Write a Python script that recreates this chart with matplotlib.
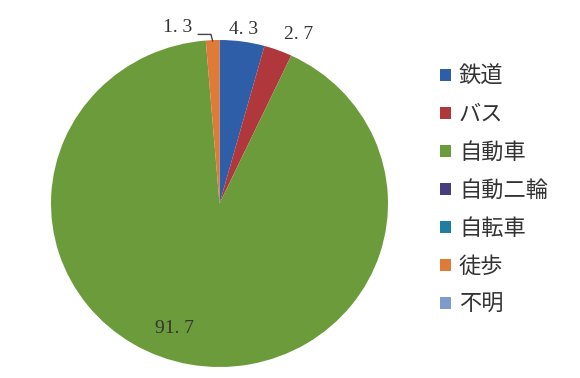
import matplotlib
matplotlib.use("Agg")
import matplotlib.pyplot as plt
import numpy as np
from matplotlib.patches import Patch

categories = ["鉄道", "バス", "自動車", "自動二輪", "自転車", "徒歩", "不明"]
values = [4.3, 2.7, 91.7, 0.0, 0.0, 1.3, 0.0]
colors = ["#2f5ea8", "#b0383c", "#6b9b3a", "#4a3d7e", "#1f7ea2", "#e07a38", "#7f9bcb"]

plt.rcParams['font.family'] = ['Noto Sans CJK JP', 'DejaVu Sans']

fig = plt.figure(figsize=(5.8, 3.78), dpi=100)
W, H = 580, 378
cx, cy, rx, ry = 219.5, 203.5, 168.5, 163.5
ax = fig.add_axes([(cx - rx) / W, (H - cy - ry) / H, 2 * rx / W, 2 * ry / H])

wedges, _ = ax.pie(values, colors=colors, startangle=90, counterclock=False,
                   radius=1.0, wedgeprops=dict(linewidth=0))
ax.set_aspect('auto')
ax.set_xlim(-1, 1)
ax.set_ylim(-1, 1)
ax.axis('off')

label_font = dict(family=['Liberation Serif', 'DejaVu Serif'], fontsize=14, color="#333333")
# label placement (radius along mid-angle, extra offsets in axis units)
placement = {0: (1.075, 0.0, 0.0), 1: (1.10, 0.09, 0.0), 2: (0.78, -0.13, 0.0)}
for i, (w, v) in enumerate(zip(wedges, values)):
    if v <= 0:
        continue
    mid = np.deg2rad((w.theta1 + w.theta2) / 2)
    txt = f"{v:.1f}".replace('.', '. ')
    if i in placement:
        r, dx, dy = placement[i]
        ax.text(r * np.cos(mid) + dx, r * np.sin(mid) + dy, txt,
                ha='center', va='center', **label_font)
    else:
        # small slice with leader line
        ex, ey = np.cos(mid), np.sin(mid)
        elbow_y = ey + 0.035
        ax.plot([ex - 0.085, ex - 0.01, ex], [elbow_y, elbow_y, ey - 0.005],
                color="#444444", lw=1.0, clip_on=False)
        ax.text(ex - 0.21, elbow_y + 0.045, txt, ha='center', va='center', **label_font)

handles = [Patch(facecolor=c, edgecolor='none') for c in colors]
leg = fig.legend(handles, categories, loc='upper left', bbox_to_anchor=(440 / W, 1 - 65 / H),
                 frameon=False, fontsize=16, handlelength=0.5, handleheight=0.5,
                 handletextpad=0.35, labelspacing=0.675, borderaxespad=0, borderpad=0)
for t in leg.get_texts():
    t.set_color("#333333")

fig.savefig("out.png", dpi=100)
